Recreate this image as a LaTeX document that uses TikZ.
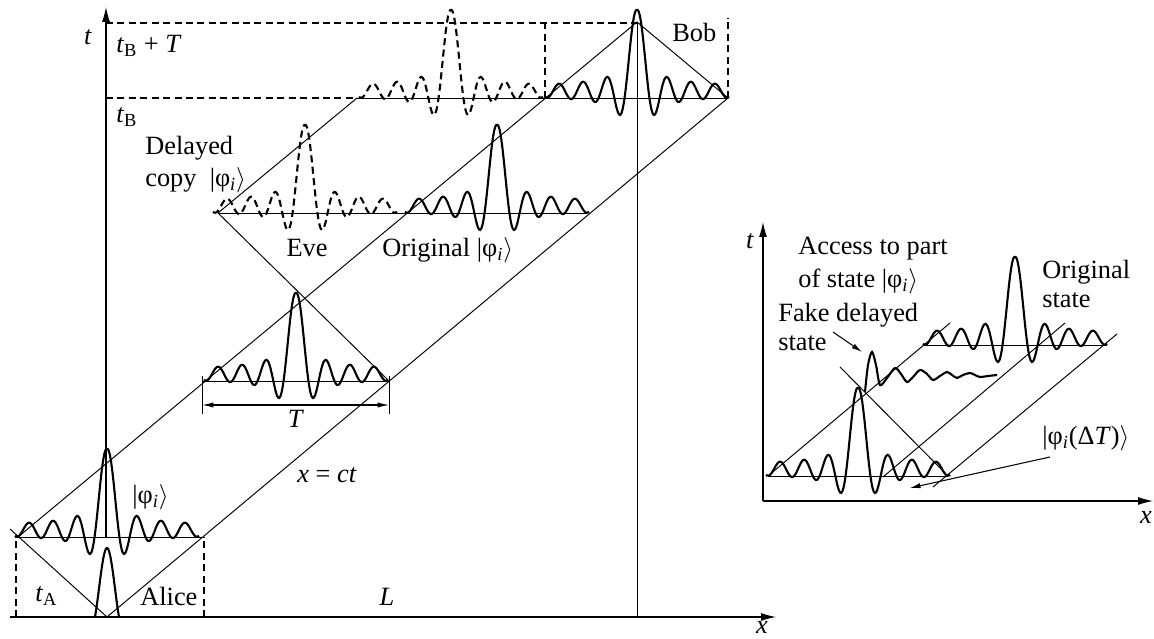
\documentclass[tikz,border=0pt]{standalone}
\usepackage{fontspec}
\setmainfont{Liberation Serif}
\usetikzlibrary{arrows.meta, calc}

\newcommand{\qket}[1]{|#1$\rangle$}
\newcommand{\phii}{φ\textsubscript{\textit{i}}}
% one sinc-like wave packet: [style]{centre x}{baseline y}
\newcommand{\wavepacket}[3][]{\draw[wave,#1] plot[domain=-92:92,samples=160] ({#2+\x},{#3+wv(\x)});}

\begin{document}
\begin{tikzpicture}[x=0.02cm,y=0.02cm,
  font=\fontsize{15}{17}\selectfont,
  every node/.style={inner sep=0pt},
  declare function={wv(\u)=sin(15*abs(\u))*(88/(0.2618*abs(\u))+3)+7-7*exp(-(\u/15.3)*(\u/15.3));},
  thinline/.style={line width=0.55pt},
  axisline/.style={line width=0.6pt, -{Latex[length=8.5pt,width=4.5pt]}},
  guide/.style={line width=0.6pt, dash pattern=on 4pt off 2.5pt},
  wave/.style={line width=1.2pt, dash pattern=},
  dashwave/.style={dash pattern=on 4pt off 2.5pt},
  ptr/.style={line width=0.6pt, -{Latex[length=6pt,width=3pt]}},
  dimline/.style={line width=0.6pt, {Latex[length=6.5pt,width=3pt]}-{Latex[length=6.5pt,width=3pt]}}]
\useasboundingbox (0,0) rectangle (1154,639);

% ---- main picture
\coordinate (av) at (107,22);
\coordinate (al) at (18,102);
\coordinate (ar) at (204,102);
\coordinate (ae) at (10,110);
\coordinate (tl) at (202,258);
\coordinate (tr) at (389,258);
\coordinate (ev) at (218,426);
\coordinate (or) at (587,426);
\coordinate (dl) at (357,541);
\coordinate (bl) at (545,541);
\coordinate (br) at (728,541);
\coordinate (bt) at (637,617);

\draw[axisline] (106,102) -- (106,632);
\draw[axisline] (10,22) -- (776,22);

% Alice
\draw[guide] (16,22) -- (16,102);
\draw[guide] (204,22) -- (204,102);
\draw[thinline] (al) -- (ar);
\draw[thinline] (ae) -- (av);
\wavepacket{107}{102}
\draw[wave] plot[domain=-12:12,samples=30] ({107+\x},{22+69*sin(15*\x)/(0.2618*\x)});

% light lines
\draw[thinline] (al) -- (bt);
\draw[thinline] (av) -- (br);
\draw[thinline] (bt) -- (br);
\draw[thinline] (637,22) -- (bt);

% packet of length T
\draw[thinline] (tl) -- (tr);
\wavepacket{296}{258}
\draw[thinline] (202,225) -- (202,263);
\draw[thinline] (389,225) -- (389,263);
\draw[dimline] (202,234) -- (389,234);

% Eve
\draw[thinline] (ev) -- (or);
\draw[thinline] (ev) -- (tr);
\draw[thinline] (ev) -- (dl);
\wavepacket[dashwave]{305}{426}
\wavepacket{497}{426}

% Bob
\draw[thinline] (dl) -- (br);
\wavepacket[dashwave]{451}{541}
\wavepacket{637}{541}
\draw[guide] (106,541) -- (dl);
\draw[guide] (106,616) -- (637,616);
\draw[guide] (bl) -- (545,616);
\draw[guide] (br) -- (728,621);

\node[anchor=base] (tlab) at (88,594) {\textit{t}};
\node[anchor=base west] (tbt) at (116,586) {\textit{t}\textsubscript{B} + \textit{T}};
\node[anchor=base west] (tb) at (116,516) {\textit{t}\textsubscript{B}};
\node[anchor=base west, align=left] (copy) at (145,452) {Delayed\\[1.7pt]copy\ \ \qket{\phii}};
\node[anchor=base] (eve) at (307,382) {Eve};
\node[anchor=base west] (orig) at (382,382) {Original \qket{\phii}};
\node[anchor=base] (tlen) at (296,211) {\textit{T}};
\node[anchor=base west] (light) at (297,156) {\textit{x} = \textit{ct}};
\node[anchor=base west] (keta) at (132,135) {\qket{\phii}};
\node[anchor=base west] (ta) at (35,37) {\textit{t}\textsubscript{A}};
\node[anchor=base west] (alice) at (140,33) {Alice};
\node[anchor=base] (dist) at (387,33) {\textit{L}};
\node[anchor=base west] (bob) at (672,597) {Bob};
\node[anchor=base] (xlab) at (762,5) {\textit{x}};

% ---- inset
\coordinate (ll) at (768,163);
\coordinate (lr) at (948,163);
\coordinate (ul) at (923,294);
\coordinate (ur) at (1107,294);
\coordinate (ftail) at (833,307);
\coordinate (ftip) at (862,287);
\coordinate (dtail) at (1050,182);
\coordinate (dtip) at (910,151);

\draw[axisline] (763,138) -- (763,417);
\draw[axisline] (763,138) -- (1153,138);
\draw[thinline] (ll) -- (lr);
\draw[thinline] (ul) -- (ur);
\wavepacket{858}{163}
\wavepacket{1015}{294}
\draw[thinline] (ll) -- (950,316);
\draw[thinline] (840,272) -- (lr);
\draw[thinline] (883,162) -- (1065,316);
\draw[thinline] (933,152) -- (1117,305);
\draw[wave] plot[smooth] coordinates {(865,247) (868,274) (872,287) (876,274) (880,254) (887,261)
  (895,271) (901,265) (907,257) (913,262) (920,269) (927,265) (933,259) (940,263) (947,267)
  (952,264) (957,261) (963,264) (970,266) (975,264) (980,262) (988,263) (997,264)};
\draw[ptr] (ftail) -- (ftip);
\draw[ptr] (dtail) -- (dtip);

\node[anchor=base] (tlab2) at (750,390) {\textit{t}};
\node[anchor=base] (xlab2) at (1146,115) {\textit{x}};
\node[anchor=base west, align=left] (access) at (798,351) {Access to part\\[2pt]of state \qket{\phii}};
\node[anchor=base west, align=left] (fake) at (778,288) {Fake delayed\\state};
\node[anchor=base west, align=left] (origst) at (1042,331) {Original\\state};
\node[anchor=base west] (shift) at (1042,194) {\qket{\phii(Δ\textit{T})}};
\end{tikzpicture}
\end{document}
